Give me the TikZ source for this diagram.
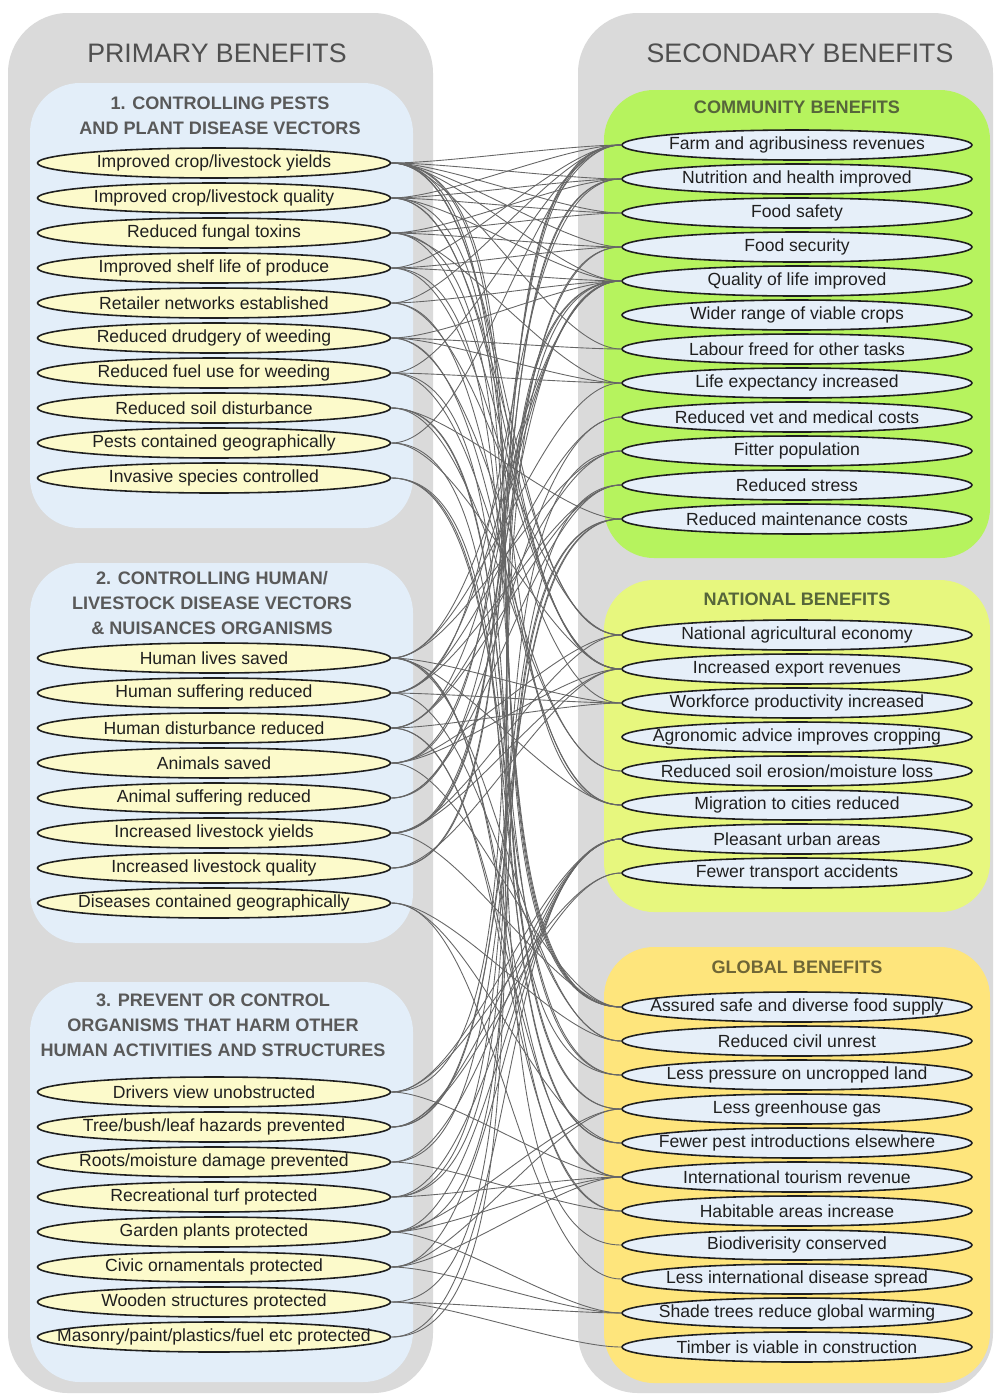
\documentclass[tikz,border=0pt]{standalone}
\usepackage{fontspec}
\setmainfont{Liberation Sans}
\usepackage{tikz}
\usetikzlibrary{shapes.geometric}
\definecolor{panelgrey}{HTML}{DADADA}
\definecolor{paleblue}{HTML}{E3EEF9}
\definecolor{commgreen}{HTML}{B6F35E}
\definecolor{natgreen}{HTML}{E7F77E}
\definecolor{globyellow}{HTML}{FEE57C}
\definecolor{cream}{HTML}{FCFACB}
\definecolor{iceblue}{HTML}{E6EFF9}
\definecolor{ink}{HTML}{1F1F1F}
\definecolor{headgrey}{HTML}{4F4F4F}
\definecolor{subgrey}{HTML}{595959}
\definecolor{olive}{HTML}{56663A}
\definecolor{ochre}{HTML}{6F6636}
\definecolor{wire}{HTML}{666666}
\tikzset{
  panel/.style={fill=panelgrey, rounded corners=12mm},
  grouppanel/.style={rounded corners=10mm},
  head/.style={font=\fontsize{15.2}{18}\selectfont, text=headgrey},
  subhead/.style={font=\fontsize{10.3}{14.2}\selectfont\bfseries, text=subgrey, align=center},
  benefit/.style={ellipse, draw=ink, line width=0.9pt, minimum width=70.6mm,
                  minimum height=6mm, inner sep=0pt, font=\fontsize{10}{12}\selectfont, text=ink},
  prim/.style={benefit, fill=cream},
  sec/.style={benefit, fill=iceblue, minimum width=70mm},
  link/.style={draw=wire, line width=0.5pt},
}

\begin{document}
\begin{tikzpicture}[x=0.2mm, y=-0.2mm]
\fill[white] (0,0) rectangle (995,1397);
\useasboundingbox (0,0) rectangle (995,1397);

% backdrop panels
\fill[panel] (8,13) rectangle (433,1393);
\fill[panel] (578,13) rectangle (993,1393);
\fill[grouppanel, fill=paleblue] (30,83) rectangle (413,528);
\fill[grouppanel, fill=paleblue] (30,563) rectangle (413,943);
\fill[grouppanel, fill=paleblue] (30,982) rectangle (413,1382);
\fill[grouppanel, fill=commgreen] (604,90) rectangle (990,558);
\fill[grouppanel, fill=natgreen] (604,580) rectangle (990,912);
\fill[grouppanel, fill=globyellow] (604,947) rectangle (990,1383);

\node[head] (primary) at (217,53) {PRIMARY BENEFITS};
\node[head] (secondary) at (800,53) {SECONDARY BENEFITS};

\node[subhead] (pests) at (220,116) {1. CONTROLLING PESTS\\AND PLANT DISEASE VECTORS};
\node[subhead] (vectors) at (212,603) {2. CONTROLLING HUMAN/\\LIVESTOCK DISEASE VECTORS\\\& NUISANCES ORGANISMS};
\node[subhead] (harm) at (213,1025) {3. PREVENT OR CONTROL\\ORGANISMS THAT HARM OTHER\\HUMAN ACTIVITIES AND STRUCTURES};
\node[subhead, text=olive] (community) at (797,107) {COMMUNITY BENEFITS};
\node[subhead, text=olive] (national) at (797,599) {NATIONAL BENEFITS};
\node[subhead, text=ochre] (global) at (797,967) {GLOBAL BENEFITS};

% primary benefits
\foreach \t [count=\i] in {Improved crop/livestock yields, Improved crop/livestock quality,
    Reduced fungal toxins, Improved shelf life of produce, Retailer networks established,
    Reduced drudgery of weeding, Reduced fuel use for weeding, Reduced soil disturbance,
    Pests contained geographically, Invasive species controlled}
  \node[prim] (a\i) at (214,{163+35*(\i-1)}) {\makebox[0pt]{\t}};
\foreach \t [count=\i] in {Human lives saved, Human suffering reduced, Human disturbance reduced,
    Animals saved, Animal suffering reduced, Increased livestock yields,
    Increased livestock quality, Diseases contained geographically}
  \node[prim] (b\i) at (214,{658+35*(\i-1)}) {\makebox[0pt]{\t}};
\foreach \t [count=\i] in {Drivers view unobstructed, Tree/bush/leaf hazards prevented,
    Roots/moisture damage prevented, Recreational turf protected, Garden plants protected,
    Civic ornamentals protected, Wooden structures protected,
    Masonry/paint/plastics/fuel etc protected}
  \node[prim] (c\i) at (214,{1092+35*(\i-1)}) {\makebox[0pt]{\t}};

% secondary benefits
\foreach \t [count=\i] in {Farm and agribusiness revenues, Nutrition and health improved,
    Food safety, Food security, Quality of life improved, Wider range of viable crops,
    Labour freed for other tasks, Life expectancy increased, Reduced vet and medical costs,
    Fitter population, Reduced stress, Reduced maintenance costs}
  \node[sec] (cm\i) at (797,{145+34*(\i-1)}) {\makebox[0pt]{\t}};
\foreach \t [count=\i] in {National agricultural economy, Increased export revenues,
    Workforce productivity increased, Agronomic advice improves cropping,
    Reduced soil erosion/moisture loss, Migration to cities reduced,
    Pleasant urban areas, Fewer transport accidents}
  \node[sec] (nt\i) at (797,{635+34*(\i-1)}) {\makebox[0pt]{\t}};
\foreach \t [count=\i] in {Assured safe and diverse food supply, Reduced civil unrest,
    Less pressure on uncropped land, Less greenhouse gas, Fewer pest introductions elsewhere,
    International tourism revenue, Habitable areas increase, Biodiverisity conserved,
    Less international disease spread, Shade trees reduce global warming,
    Timber is viable in construction}
  \node[sec] (gl\i) at (797,{1007+34*(\i-1)}) {\makebox[0pt]{\t}};

% links
\foreach \s/\ts in {a1/{cm1,cm2,cm3,cm4,cm5,cm7,nt1,nt2,nt6,gl1,gl3},
    a2/{cm1,cm2,cm3,cm5,nt1,nt2,gl1}, a3/{cm2,cm3,cm4,cm8,nt2,gl1},
    a4/{cm1,cm4,cm5,nt2,gl1}, a5/{cm1,cm5,nt1,nt6}, a6/{cm5,cm7,cm8,nt3,nt6},
    a7/{cm1,cm8,nt5,gl4}, a8/{cm12,nt5,gl3,gl4}, a9/{cm1,nt2,gl5}, a10/{gl3,gl5,gl8},
    b1/{cm5,cm8,cm10,nt3,nt6,gl2,gl6,gl7}, b2/{cm2,cm5,cm9,cm11,nt3,gl2},
    b3/{cm5,cm10,cm11,nt3,gl6,gl7}, b4/{cm1,cm4,nt1,nt2,gl1}, b5/{cm5,cm9,cm11},
    b6/{cm1,cm2,cm4,nt1,nt2,gl1}, b7/{cm1,cm2,nt2}, b8/{gl2,gl5,gl9},
    c1/{cm5,nt7,nt8,gl6}, c2/{cm11,cm12,nt7,nt8}, c3/{cm12,nt7,gl7},
    c4/{cm5,cm10,nt7,gl6}, c5/{cm5,nt7,gl4,gl6,gl10}, c6/{nt7,gl4,gl6,gl10},
    c7/{cm12,gl10,gl11}, c8/{cm12,nt7}}
  \foreach \t in \ts
    \draw[link] (\s.east) to[out=0, in=180, looseness=0.6] (\t.west);
\end{tikzpicture}
\end{document}
